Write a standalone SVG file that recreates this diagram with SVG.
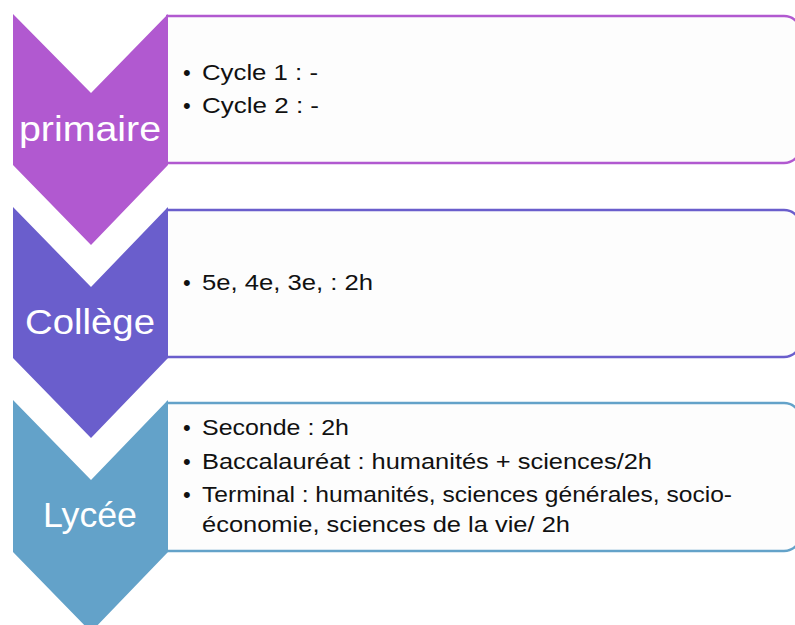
<svg xmlns="http://www.w3.org/2000/svg" width="795" height="625" viewBox="0 0 795 625">
<style>
.box{fill:#FDFDFD;stroke-width:2.5}
.lbl{font-family:"Liberation Sans",Arial,sans-serif;font-size:35px;fill:#FFFFFF;text-anchor:middle}
.txt{font-family:"Liberation Sans",Arial,sans-serif;font-size:22px;fill:#111111}
</style>
<rect width="795" height="625" fill="#FFFFFF"/>
<g id="primaire">
<path class="box" d="M166,16 H784 A17,17 0 0 1 801,33 V146 A17,17 0 0 1 784,163 H166" stroke="#B159D0"/>
<polygon points="13,14 91,93 168,14 168,165 91,245 13,165" fill="#B159D0"/>
<text class="lbl" x="90" y="141" textLength="142" lengthAdjust="spacingAndGlyphs">primaire</text>
<text class="txt" x="183" y="80">•</text><text class="txt" x="202" y="80" textLength="116" lengthAdjust="spacingAndGlyphs">Cycle 1 : -</text>
<text class="txt" x="183" y="113">•</text><text class="txt" x="202" y="113" textLength="117" lengthAdjust="spacingAndGlyphs">Cycle 2 : -</text>
</g>
<g id="college">
<path class="box" d="M166,210 H784 A17,17 0 0 1 801,227 V340 A17,17 0 0 1 784,357 H166" stroke="#6A5ECC"/>
<polygon points="13,207 91,287 168,207 168,358 91,438 13,358" fill="#6A5ECC"/>
<text class="lbl" x="90" y="334" textLength="130" lengthAdjust="spacingAndGlyphs">Collège</text>
<text class="txt" x="183" y="290">•</text><text class="txt" x="202" y="290" textLength="171" lengthAdjust="spacingAndGlyphs">5e, 4e, 3e, : 2h</text>
</g>
<g id="lycee">
<path class="box" d="M166,403 H784 A17,17 0 0 1 801,420 V534 A17,17 0 0 1 784,551 H166" stroke="#63A2C9"/>
<polygon points="13,400 91,480 168,400 168,552 91,632 13,552" fill="#63A2C9"/>
<text class="lbl" x="90" y="527" textLength="94" lengthAdjust="spacingAndGlyphs">Lycée</text>
<text class="txt" x="183" y="435">•</text><text class="txt" x="202" y="435" textLength="147" lengthAdjust="spacingAndGlyphs">Seconde : 2h</text>
<text class="txt" x="183" y="469">•</text><text class="txt" x="202" y="469" textLength="450" lengthAdjust="spacingAndGlyphs">Baccalauréat : humanités + sciences/2h</text>
<text class="txt" x="183" y="502">•</text><text class="txt" x="202" y="502" textLength="530" lengthAdjust="spacingAndGlyphs">Terminal : humanités, sciences générales, socio-</text>
<text class="txt" x="202" y="532" textLength="368" lengthAdjust="spacingAndGlyphs">économie, sciences de la vie/ 2h</text>
</g>
<g id="connectors"></g>
</svg>
